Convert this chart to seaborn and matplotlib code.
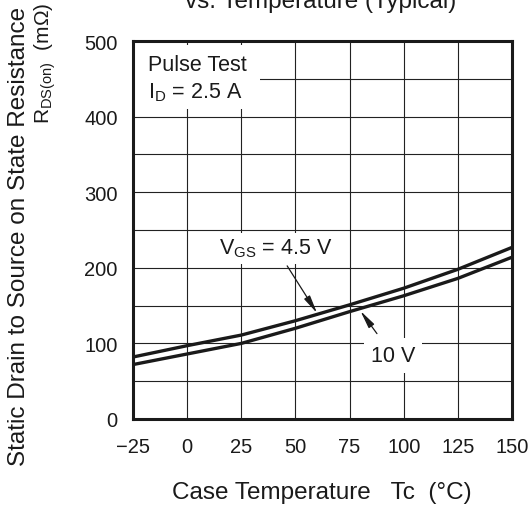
import matplotlib
matplotlib.use("Agg")
import matplotlib.pyplot as plt
from matplotlib.patches import Rectangle
import seaborn as sns
import pandas as pd

temps = [-25, 0, 25, 50, 75, 100, 125, 150]
r_vgs45 = [82, 97, 111, 130, 151, 173, 198, 227]
r_vgs10 = [72, 86, 100, 120, 142, 163, 186, 214]
x_ticks = [-25, 0, 25, 50, 75, 100, 125, 150]
y_ticks = [0, 100, 200, 300, 400, 500]

sns.set_theme(style="white")
plt.rcParams['font.family'] = ['Liberation Sans', 'DejaVu Sans']
plt.rcParams['mathtext.fontset'] = 'custom'
plt.rcParams['mathtext.rm'] = 'Liberation Sans'
plt.rcParams['mathtext.it'] = 'Liberation Sans'

df = pd.DataFrame({
    "T": temps + temps,
    "R": r_vgs45 + r_vgs10,
    "series": ["4.5 V"] * len(temps) + ["10 V"] * len(temps),
})

fig = plt.figure(figsize=(5.29, 5.06), dpi=100)
ax = fig.add_axes([133/529, 1 - 420/506, 379/529, 378/506])

sns.lineplot(data=df, x="T", y="R", units="series", estimator=None,
             color="#1a1a1a", linewidth=2.4, ax=ax, legend=False)

ax.set_xlim(-25, 150)
ax.set_ylim(0, 500)
ax.set_xticks(x_ticks)
ax.set_yticks(y_ticks)
ax.set_yticks(list(range(0, 501, 50)), minor=True)
ax.grid(True, which="both", color="#222222", linewidth=0.8)
ax.set_axisbelow(True)
ax.tick_params(axis="both", which="both", length=0, labelsize=14.5, colors="#1a1a1a")
ax.tick_params(axis="x", pad=13)
ax.tick_params(axis="y", pad=11)
ax.set_xlabel("")
ax.set_ylabel("")
for s in ax.spines.values():
    s.set_visible(True)
    s.set_color("#1a1a1a")
    s.set_linewidth(2.2)
    s.set_zorder(5)

fs_in = 15.5
fs_lab = 17.5

ax.add_patch(Rectangle((-25, 410), 58.6, 85, facecolor="white", edgecolor="none", zorder=3))
ax.text(-18, 469.5, "Pulse Test", fontsize=fs_in, color="#1a1a1a",
        va="center", ha="left", zorder=4)
ax.text(-18, 432.5, "$\\mathregular{I_D}$ = 2.5 A", fontsize=fs_in, color="#1a1a1a",
        va="center", ha="left", zorder=4)

ax.annotate("$\\mathregular{V_{GS}}$ = 4.5 V", xy=(60, 140), xytext=(41, 226),
            fontsize=fs_in, color="#1a1a1a", ha="center", va="center",
            bbox=dict(facecolor="white", edgecolor="none", pad=3),
            arrowprops=dict(arrowstyle="-|>,head_length=0.7,head_width=0.13",
                            color="#1a1a1a", lw=0.9, shrinkA=2, shrinkB=0), zorder=4)
ax.annotate("10 V", xy=(80, 143), xytext=(95, 84),
            fontsize=fs_in, color="#1a1a1a", ha="center", va="center",
            bbox=dict(facecolor="white", edgecolor="none", pad=5),
            arrowprops=dict(arrowstyle="-|>,head_length=0.7,head_width=0.13",
                            color="#1a1a1a", lw=0.9, shrinkA=4, shrinkB=0), zorder=4)

fig.text(321/529, 1 - 8/506, "vs. Temperature (Typical)", fontsize=fs_lab, ha="center",
         va="baseline", color="#1a1a1a")
fig.text(19/529, 1 - 7/506, "Static Drain to Source on State Resistance", fontsize=fs_lab,
         rotation=90, ha="center", va="top", color="#1a1a1a")
fig.text(45/529, 1 - 3/506, "$\\mathregular{R_{DS(on)}}$  (mΩ)", fontsize=15,
         rotation=90, ha="center", va="top", color="#1a1a1a")
fig.text(322/529, 1 - 493/506, "Case Temperature   Tc  (°C)", fontsize=fs_lab,
         ha="center", va="center", color="#1a1a1a")

fig.savefig("out.png", dpi=100, facecolor="white")
